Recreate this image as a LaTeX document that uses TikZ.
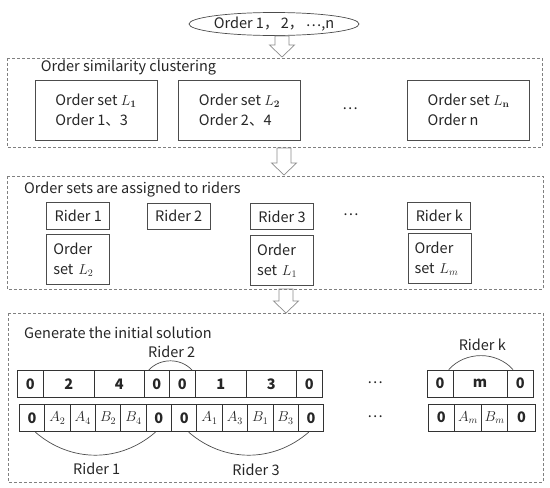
\documentclass[tikz,border=0pt]{standalone}
\usepackage[no-math]{fontspec}
\setmainfont{Noto Sans CJK SC}
\usetikzlibrary{shapes.geometric}

\begin{document}
\begin{tikzpicture}[x=1pt, y=-1pt,
	every node/.style={font=\fontsize{14.5}{19.8}\selectfont, text=black!85},
	groupbox/.style={draw=black!50, dash pattern=on 3pt off 2pt, line width=0.7pt},
	setbox/.style={draw=black!70, line width=0.8pt, align=left, inner sep=0pt, minimum width=122, minimum height=60},
	riderbox/.style={draw=black!70, line width=0.8pt, inner sep=0pt, minimum width=63, minimum height=26.5},
	listbox/.style={draw=black!70, line width=0.8pt, align=left, text width=50pt, inner xsep=6.5pt, inner ysep=0pt, minimum height=50},
	cell/.style={draw=black!80, line width=0.8pt, inner sep=0pt, minimum height=27, anchor=west},
	blockarrow/.style={draw=black!45, fill=white, line width=0.7pt, line join=miter},
	linkarc/.style={draw=black!70, line width=0.7pt},
	grouptitle/.style={anchor=west, inner sep=0pt}]
	\useasboundingbox (0,0) rectangle (550,488);

	% orders
	\node[ellipse, draw=black!70, line width=0.7pt, minimum width=165, minimum height=23, inner sep=0pt] (orders) at (274,24) {Order 1，\,2，\,\raisebox{0.3ex}{…},n};

	% block arrows between the stages
	\foreach \x/\ya/\yb in {282/36/57, 284/148/175, 286/289/313}
		\draw[blockarrow] (\x-7,\ya) -- (\x+7,\ya) -- (\x+7,\yb-12) -- (\x+12.5,\yb-12) -- (\x,\yb) -- (\x-12.5,\yb-12) -- (\x-7,\yb-12) -- cycle;

	% stage 1: clustering
	\draw[groupbox] (7,58) rectangle (542,147);
	\node[grouptitle] (title1) at (40.7,68) {Order similarity clustering};
	\node[setbox] (set1) at (96,110) {Order set $L_{\mathbf{1}}$\\Order 1、3};
	\node[setbox] (set2) at (239.5,110) {Order set $L_{\mathbf{2}}$\\Order 2、4};
	\node (dots1) at (350,110) {\raisebox{0.3ex}{…}};
	\node[setbox] (setn) at (468.5,110) {Order set $L_{\mathbf{n}}$\\Order n};

	% stage 2: assignment
	\draw[groupbox] (7,176) rectangle (543,289);
	\node[grouptitle] (title2) at (24,190) {Order sets are assigned to riders};
	\node[riderbox] (rider1) at (78.3,216) {Rider 1};
	\node[riderbox] (rider2) at (178.7,216.3) {Rider 2};
	\node[riderbox] (rider3) at (282,216.5) {Rider 3};
	\node (dots2) at (350.7,216) {\raisebox{0.3ex}{…}};
	\node[riderbox] (riderk) at (439.3,216) {Rider k};
	\node[listbox] (list1) at (78.3,259.5) {Order\\set $L_2$};
	\node[listbox] (list3) at (282,260.5) {Order\\set $L_1$};
	\node[listbox] (listk) at (439.5,258.5) {Order\\set $L_m$};

	% stage 3: initial solution
	\draw[groupbox] (8,313) rectangle (543,482);
	\node[grouptitle] (title3) at (24,333) {Generate the initial solution};
	\foreach \x/\w/\t [count=\i] in {17/26/0, 43/51/2, 94/50/4, 144/25/0, 169/26/0, 195/51/1, 246/50/3, 296/26/0}
		\node[cell, minimum width=\w] (a\i) at (\x,384) {\bfseries \t};
	\foreach \t [count=\i] in {\textbf{0}, $A_2$, $A_4$, $B_2$, $B_4$, \textbf{0}, \textbf{0}, $A_1$, $A_3$, $B_1$, $B_3$, \textbf{0}}
		\node[cell, minimum width=25.35, minimum height=27.5] (b\i) at ({19+(\i-1)*25.35},418) {\t};
	\foreach \x/\w/\t [count=\i] in {426.7/26/0, 452.7/54/m, 506.7/26.6/0}
		\node[cell, minimum width=\w] (k\i) at (\x,383.5) {\bfseries \t};
	\foreach \x/\w/\t [count=\i] in {427.7/26.6/\textbf{0}, 454.3/26.7/$A_m$, 481/26.3/$B_m$, 507.3/27.7/\textbf{0}}
		\node[cell, minimum width=\w, minimum height=27] (m\i) at (\x,417.7) {\t};
	\node (dots3) at (375,384) {\raisebox{0.3ex}{…}};
	\node (dots4) at (375,418) {\raisebox{0.3ex}{…}};

	% riders over the routes
	\draw[linkarc] ([xshift=3.3pt]b1.south) to[bend right=41] ([xshift=-3.4pt]b6.south);
	\draw[linkarc] ([xshift=4.5pt]b7.south) to[bend right=41] ([xshift=-2.2pt]b12.south);
	\draw[linkarc] ([xshift=-8.2pt]a4.north) to[bend left=47] ([xshift=9.7pt]a5.north);
	\draw[linkarc] ([xshift=8.6pt]k1.north) to[bend left=48] ([xshift=-7.3pt]k3.north);
	\node (lab1) at (96.7,469) {Rider 1};
	\node (lab3) at (256,470) {Rider 3};
	\node (lab2) at (171.7,351.7) {Rider 2};
	\node (labk) at (482.3,345) {Rider k};
\end{tikzpicture}
\end{document}
